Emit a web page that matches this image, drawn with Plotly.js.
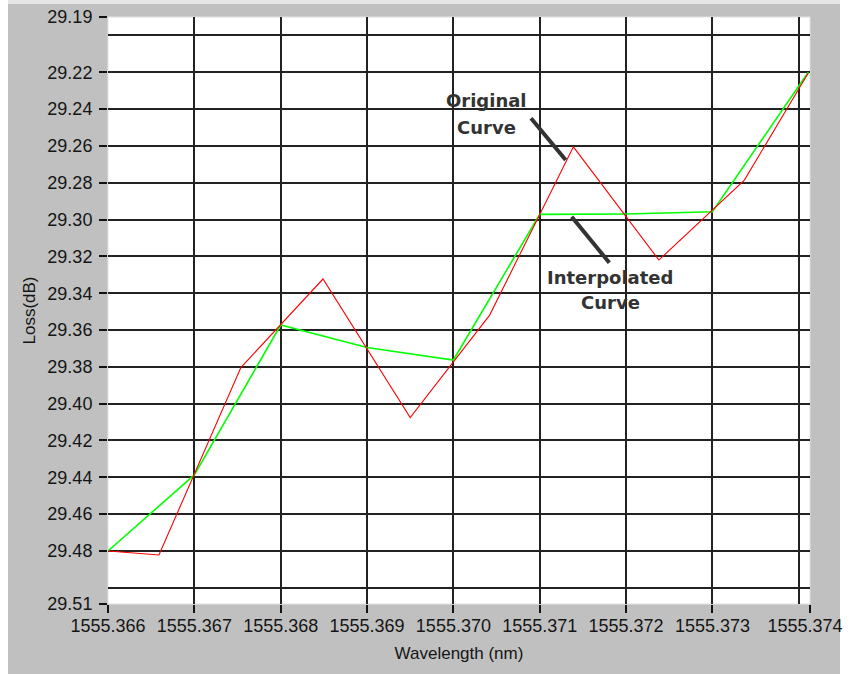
<!DOCTYPE html>
<html>
<head>
<meta charset="utf-8">
<script src="https://cdn.plot.ly/plotly-3.0.1.min.js"></script>
<style>html,body{margin:0;padding:0;background:#fff;}#chart{width:855px;height:674px;}</style>
</head>
<body>
<div id="chart"></div>
<script>
// ---- data ----
const wavelengthOriginal = [1555.36600, 1555.36659, 1555.36754, 1555.36849, 1555.36950, 1555.37042, 1555.37139, 1555.37238, 1555.37337, 1555.37411];
const lossOriginal       = [29.4800,    29.4822,    29.3803,    29.3323,    29.4076,    29.3519,    29.2605,    29.3220,    29.2786,    29.2204];

const wavelengthInterpolated = [1555.366, 1555.367, 1555.368, 1555.369, 1555.370, 1555.371, 1555.372, 1555.373, 1555.37411];
const lossInterpolated       = [29.4800,  29.4387,  29.3573,  29.3695,  29.3763,  29.2972,  29.2970,  29.2958,  29.2200];

// axis ticks / grid
const xRange = [1555.366, 1555.37413];
const yRange = [29.5088, 29.19];
const xTickVals = [1555.366, 1555.367, 1555.368, 1555.369, 1555.370, 1555.371, 1555.372, 1555.373, 1555.37413];
const xTickText = ['1555.366', '1555.367', '1555.368', '1555.369', '1555.370', '1555.371', '1555.372', '1555.373', '1555.374\u00a0\u00a0'];
const xGridVals = [1555.367, 1555.368, 1555.369, 1555.370, 1555.371, 1555.372, 1555.373, 1555.374];
const yTickVals = [29.19, 29.22, 29.24, 29.26, 29.28, 29.30, 29.32, 29.34, 29.36, 29.38, 29.40, 29.42, 29.44, 29.46, 29.48, 29.5088];
const yTickText = ['29.19', '29.22', '29.24', '29.26', '29.28', '29.30', '29.32', '29.34', '29.36', '29.38', '29.40', '29.42', '29.44', '29.46', '29.48', '29.51'];
const yGridVals = [29.20, 29.22, 29.24, 29.26, 29.28, 29.30, 29.32, 29.34, 29.36, 29.38, 29.40, 29.42, 29.44, 29.46, 29.48, 29.50];

const tickFont = {family: 'Liberation Sans, Arial, sans-serif', size: 18, color: '#151515'};
const titleFont = {family: 'Liberation Sans, Arial, sans-serif', size: 17, color: '#151515'};
const noteFont = {family: 'DejaVu Sans, Verdana, sans-serif', size: 18, color: '#333333', weight: 'bold'};

const traces = [
  {
    name: 'Interpolated Curve', type: 'scatter', mode: 'lines',
    x: wavelengthInterpolated, y: lossInterpolated,
    xaxis: 'x', yaxis: 'y',
    line: {color: '#00ff00', width: 1.6}, hoverinfo: 'x+y'
  },
  {
    name: 'Original Curve', type: 'scatter', mode: 'lines',
    x: wavelengthOriginal, y: lossOriginal,
    xaxis: 'x2', yaxis: 'y2',
    line: {color: '#ff0000', width: 1.1}, hoverinfo: 'x+y'
  }
];

const gridAxisX = {
  range: xRange, tickmode: 'array', tickvals: xGridVals, showticklabels: false, ticks: '',
  showgrid: true, gridcolor: '#222222', gridwidth: 2, zeroline: false, showline: false, fixedrange: true
};
const gridAxisY = {
  range: yRange, tickmode: 'array', tickvals: yGridVals, showticklabels: false, ticks: '',
  showgrid: true, gridcolor: '#222222', gridwidth: 2, zeroline: false, showline: false, fixedrange: true
};

const layout = {
  width: 855, height: 674,
  margin: {l: 108, r: 45, t: 17, b: 70, pad: 0},
  paper_bgcolor: '#ffffff',
  plot_bgcolor: '#ffffff',
  showlegend: false,
  xaxis: gridAxisX,
  yaxis: gridAxisY,
  xaxis2: {
    overlaying: 'x', anchor: 'y', side: 'bottom',
    range: xRange, tickmode: 'array', tickvals: xTickVals, ticktext: xTickText,
    ticks: 'outside', ticklen: 8, tickwidth: 2, tickcolor: '#111111', ticklabelstandoff: -3,
    tickfont: tickFont, showgrid: false, zeroline: false, showline: false, fixedrange: true,
    title: {text: 'Wavelength (nm)', font: titleFont, standoff: 12}
  },
  yaxis2: {
    overlaying: 'y', anchor: 'x', side: 'left',
    range: yRange, tickmode: 'array', tickvals: yTickVals, ticktext: yTickText,
    ticks: 'outside', ticklen: 8, tickwidth: 2, tickcolor: '#111111', ticklabelstandoff: 3,
    tickfont: tickFont, showgrid: false, zeroline: false, showline: false, fixedrange: true,
    title: {text: 'Loss(dB)', font: titleFont, standoff: 7}
  },
  shapes: [
    // grey panel frame
    {type: 'rect', xref: 'paper', yref: 'paper', x0: -0.14245, x1: 1.04274, y0: -0.11925, y1: 1.02215,
     fillcolor: '#c0c0c0', line: {width: 0}, layer: 'below'},
    {type: 'rect', xref: 'paper', yref: 'paper', x0: -0.14245, x1: 1.04274, y0: 1.02215, y1: 1.03,
     fillcolor: '#e6e6e6', line: {width: 0}, layer: 'below'},
    // white plotting area
    {type: 'rect', xref: 'paper', yref: 'paper', x0: 0, x1: 1, y0: 0, y1: 1,
     fillcolor: '#ffffff', line: {color: '#e2e2e2', width: 1}, layer: 'below'},
    // pointer lines for the callouts
    {type: 'line', xref: 'paper', yref: 'paper', x0: 0.6026, y0: 0.8274, x1: 0.6520, y1: 0.7564,
     line: {color: '#333333', width: 4}},
    {type: 'line', xref: 'paper', yref: 'paper', x0: 0.6605, y0: 0.6598, x1: 0.7141, y1: 0.5814,
     line: {color: '#333333', width: 4}}
  ],
  annotations: [
    {text: 'Original', xref: 'paper', yref: 'paper', x: 0.5392, y: 0.8586, xanchor: 'center', yanchor: 'middle', showarrow: false, font: noteFont},
    {text: 'Curve', xref: 'paper', yref: 'paper', x: 0.5385, y: 0.8126, xanchor: 'center', yanchor: 'middle', showarrow: false, font: noteFont},
    {text: 'Interpolated', xref: 'paper', yref: 'paper', x: 0.7151, y: 0.5554, xanchor: 'center', yanchor: 'middle', showarrow: false, font: noteFont},
    {text: 'Curve', xref: 'paper', yref: 'paper', x: 0.7165, y: 0.5128, xanchor: 'center', yanchor: 'middle', showarrow: false, font: noteFont}
  ]
};

Plotly.newPlot('chart', traces, layout, {displayModeBar: false, staticPlot: true});
</script>
</body>
</html>
